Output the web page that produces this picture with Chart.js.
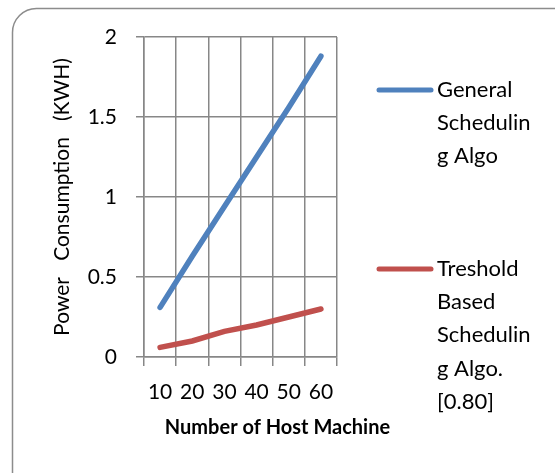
<!DOCTYPE html>
<html>
<head>
<meta charset="utf-8">
<style>
  html, body { margin: 0; padding: 0; background: #ffffff; }
  canvas { display: block; }
</style>
<script src="https://cdn.jsdelivr.net/npm/chart.js@4"></script>
</head>
<body>
<canvas id="c" width="555" height="473"></canvas>
<script>
// ---- data ----
const categories = ['10', '20', '30', '40', '50', '60'];
const generalValues = [0.31, 0.63, 0.94, 1.25, 1.56, 1.88];
const thresholdValues = [0.06, 0.10, 0.16, 0.20, 0.25, 0.30];
const seriesNames = ['General Scheduling Algo', 'Treshold Based Scheduling Algo. [0.80]'];
const legendLines = [
  ['General', 'Schedulin', 'g Algo'],
  ['Treshold', 'Based', 'Schedulin', 'g Algo.', '[0.80]']
];
const yTicks = [0, 0.5, 1, 1.5, 2];
const xTitle = 'Number of Host Machine';
const yTitle = 'Power   Consumption   (KWH)';

const FONT = 'Lato, "Open Sans", sans-serif';
const GRID = '#878787';

const borderPlugin = {
  id: 'frame',
  beforeDraw(chart) {
    const ctx = chart.ctx;
    ctx.save();
    ctx.fillStyle = '#ffffff';
    ctx.fillRect(0, 0, chart.width, chart.height);
    ctx.strokeStyle = '#8c8c8c';
    ctx.lineWidth = 1.5;
    ctx.beginPath();
    ctx.roundRect(12.5, 8.5, 565, 490, 24);
    ctx.stroke();
    ctx.restore();
  }
};

const legendPlugin = {
  id: 'sideLegend',
  afterDraw(chart) {
    const ctx = chart.ctx;
    const starts = [97, 276];
    chart.data.datasets.forEach((ds, i) => {
      const base = starts[i];
      const lineY = base - 7;
      ctx.save();
      ctx.strokeStyle = ds.borderColor;
      ctx.lineWidth = 5;
      ctx.lineCap = 'round';
      ctx.beginPath();
      ctx.moveTo(379, lineY);
      ctx.lineTo(431, lineY);
      ctx.stroke();
      ctx.fillStyle = '#000000';
      ctx.font = '22px ' + FONT;
      ctx.textAlign = 'left';
      ctx.textBaseline = 'alphabetic';
      legendLines[i].forEach((t, k) => {
        ctx.fillText(t, 437, base + k * 33.2);
      });
      ctx.restore();
    });
  }
};

new Chart(document.getElementById('c'), {
  type: 'line',
  data: {
    labels: categories,
    datasets: [
      {
        label: seriesNames[0],
        data: generalValues,
        borderColor: '#4F81BD',
        backgroundColor: '#4F81BD',
        borderWidth: 5.5,
        pointRadius: 0,
        borderCapStyle: 'round',
        tension: 0
      },
      {
        label: seriesNames[1],
        data: thresholdValues,
        borderColor: '#C0504D',
        backgroundColor: '#C0504D',
        borderWidth: 5.5,
        pointRadius: 0,
        borderCapStyle: 'round',
        tension: 0
      }
    ]
  },
  options: {
    responsive: false,
    animation: false,
    devicePixelRatio: 1,
    layout: { padding: { top: 37, right: 0, left: 0, bottom: 0 } },
    plugins: {
      legend: { display: false },
      tooltip: { enabled: false },
      title: {
        display: true,
        position: 'bottom',
        text: xTitle,
        color: '#000000',
        font: { family: FONT, size: 20, weight: 'bold', lineHeight: 1.2 },
        padding: { top: 0, bottom: 33 }
      }
    },
    scales: {
      x: {
        type: 'category',
        offset: true,
        grid: {
          offset: true,
          color: GRID,
          lineWidth: 1.5,
          tickLength: 9,
          drawTicks: true
        },
        border: { color: GRID, width: 1.5 },
        ticks: {
          color: '#000000',
          font: { family: FONT, size: 21 },
          padding: 14,
          maxRotation: 0,
          autoSkip: false
        },
        afterFit(scale) { scale.height = 473 - 357 - (24 + 33); }
      },
      y: {
        min: 0,
        max: 2,
        afterBuildTicks(scale) { scale.ticks = yTicks.map(v => ({ value: v })); },
        grid: { color: GRID, lineWidth: 1.5, tickLength: 8 },
        border: { color: GRID, width: 1.5 },
        ticks: {
          color: '#000000',
          font: { family: FONT, size: 21 },
          padding: 19,
          callback: (v) => String(v)
        },
        title: {
          display: true,
          text: yTitle,
          color: '#000000',
          font: { family: FONT, size: 21, lineHeight: 1.2 },
          padding: { top: 50, bottom: 0 }
        },
        afterFit(scale) { scale.width = 144; }
      },
      yRight: {
        type: 'linear',
        position: 'right',
        display: true,
        grid: { display: false, drawTicks: false },
        border: { display: false },
        ticks: { display: false },
        afterFit(scale) { scale.width = 555 - 337; }
      }
    }
  },
  plugins: [borderPlugin, legendPlugin]
});
</script>
</body>
</html>
